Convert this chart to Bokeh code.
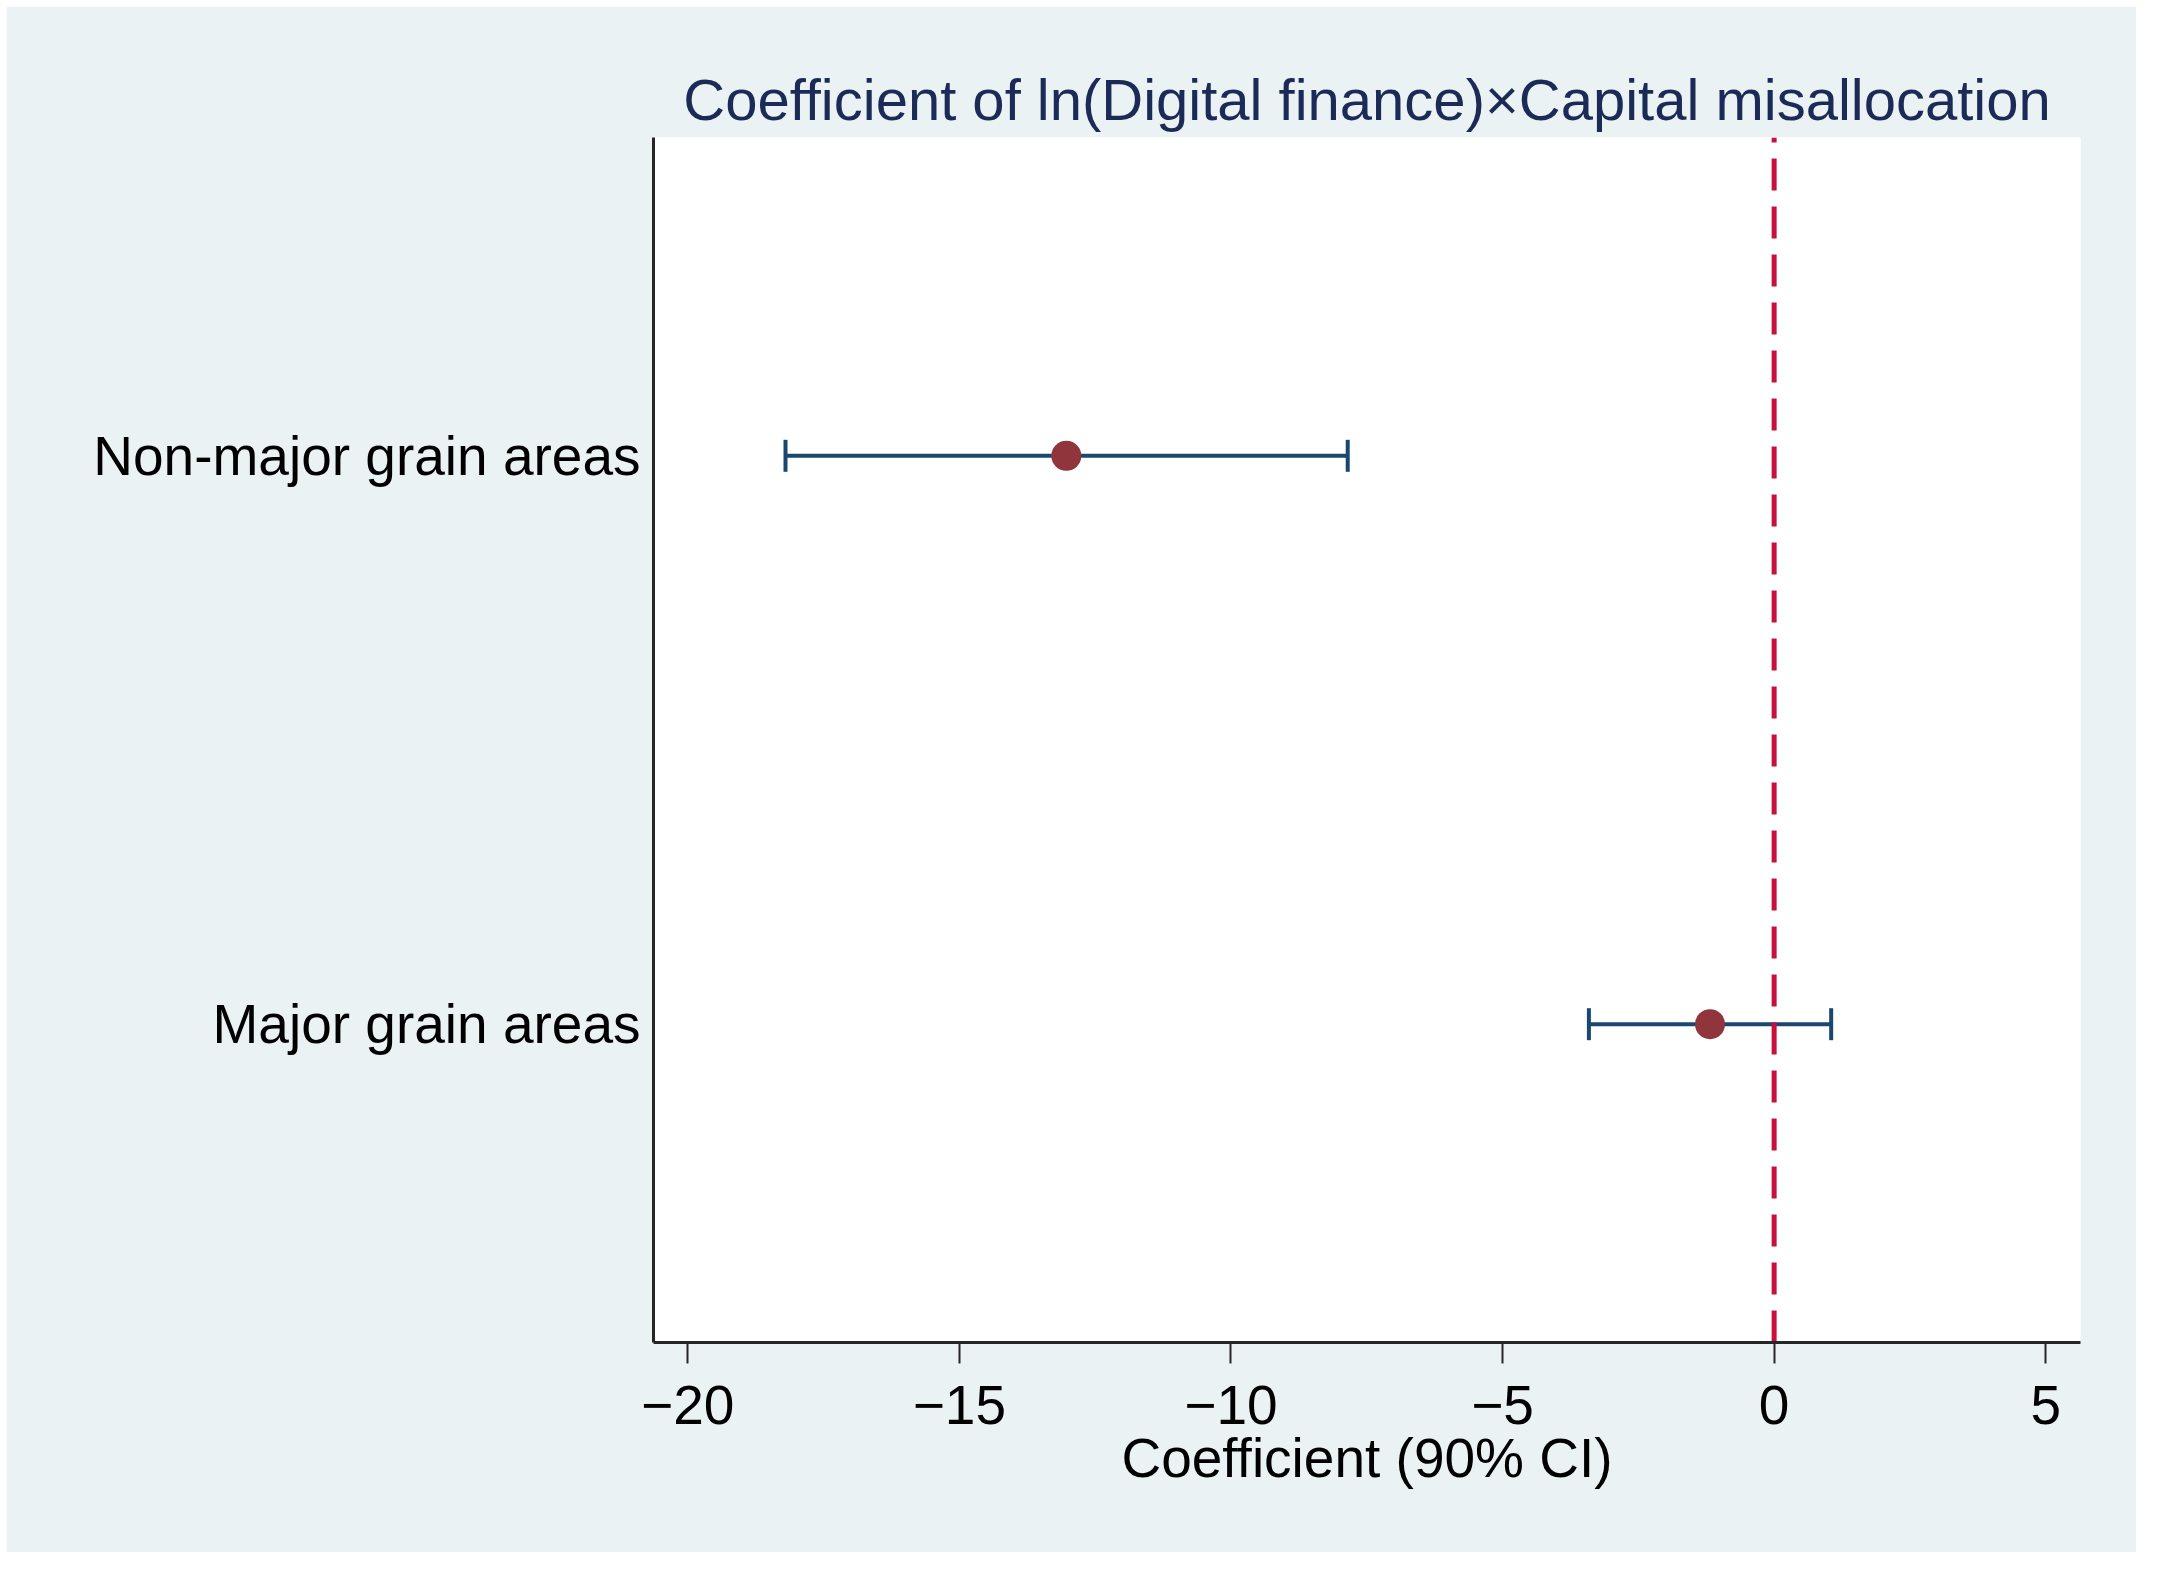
from bokeh.plotting import figure
from bokeh.models import Range1d, FixedTicker, Whisker, TeeHead, ColumnDataSource
from bokeh.embed import file_html
from bokeh.resources import INLINE

# ---- data ----
categories = ["Major grain areas", "Non-major grain areas"]
cat_pos = [1, 2]
coef = [-1.18, -13.03]
ci_low = [-3.41, -18.20]
ci_high = [1.05, -7.85]
x_ticks = [-20, -15, -10, -5, 0, 5]
x_tick_labels = ["\u221220", "\u221215", "\u221210", "\u22125", "0", "5"]
title_text = "Coefficient of ln(Digital finance)\u00d7Capital misallocation"
x_title = "Coefficient (90% CI)"
ref_line = 0

FONT = "Liberation Sans"
BG = "#eaf2f3"
NAVY = "#1a476f"
MAROON = "#90353b"
RED = "#c9103d"

Y_LO, Y_HI = 0.44, 2.56

p = figure(width=2130, height=1546, output_backend="svg", toolbar_location=None,
           x_range=Range1d(-20.63, 5.64), y_range=Range1d(Y_LO, Y_HI),
           min_border_left=647, min_border_right=56, min_border_top=131, min_border_bottom=210)
p.margin = (6, 0, 0, 6)
p.border_fill_color = BG
p.background_fill_color = "white"
p.outline_line_color = None
p.grid.visible = False

p.title.text = title_text
p.title.align = "center"
p.title.text_font = FONT
p.title.text_font_size = "58px"
p.title.text_font_style = "normal"
p.title.text_color = "#1c2a57"
p.title.standoff = 11

# reference line at zero (drawn bottom to top)
p.segment(x0=[ref_line], y0=[Y_LO], x1=[ref_line], y1=[Y_HI], line_color=RED,
          line_width=5, line_dash="32 16")

src = ColumnDataSource(dict(y=cat_pos, coef=coef, lo=ci_low, hi=ci_high))
w = Whisker(source=src, base="y", lower="lo", upper="hi", dimension="width",
            line_color=NAVY, line_width=4,
            lower_head=TeeHead(size=32, line_color=NAVY, line_width=4),
            upper_head=TeeHead(size=32, line_color=NAVY, line_width=4))
p.add_layout(w)
p.scatter(x="coef", y="y", source=src, size=30, fill_color=MAROON, line_color=None)

# x axis
xa = p.xaxis[0]
xa.ticker = FixedTicker(ticks=x_ticks)
xa.major_label_overrides = {t: l for t, l in zip(x_ticks, x_tick_labels)}
xa.minor_tick_line_color = None
xa.major_tick_out = 21
xa.major_tick_in = 0
xa.major_tick_line_width = 2
xa.major_tick_line_color = "#262626"
xa.axis_line_width = 3
xa.axis_line_color = "#262626"
xa.major_label_text_font = FONT
xa.major_label_text_font_size = "55px"
xa.major_label_text_color = "black"
xa.major_label_standoff = 22
xa.axis_label = x_title
xa.axis_label_text_font = FONT
xa.axis_label_text_font_size = "55px"
xa.axis_label_text_font_style = "normal"
xa.axis_label_text_color = "black"
xa.axis_label_standoff = 0

# y axis
ya = p.yaxis[0]
ya.ticker = FixedTicker(ticks=cat_pos)
ya.major_label_overrides = {pos: c for pos, c in zip(cat_pos, categories)}
ya.minor_tick_line_color = None
ya.major_tick_line_color = None
ya.major_tick_out = 0
ya.major_tick_in = 0
ya.axis_line_width = 3
ya.axis_line_color = "#262626"
ya.major_label_text_font = FONT
ya.major_label_text_font_size = "55px"
ya.major_label_text_color = "black"
ya.major_label_standoff = 13

open("out.html", "w").write(file_html(p, INLINE))
